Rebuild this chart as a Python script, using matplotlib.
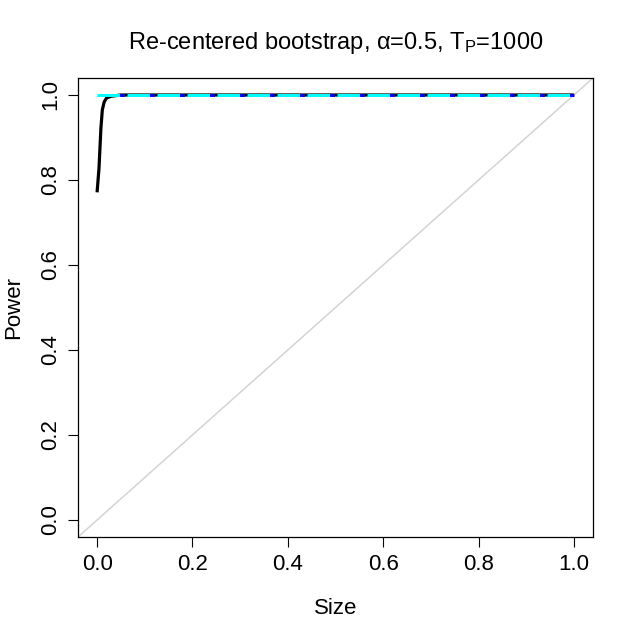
import matplotlib
matplotlib.use("Agg")
import matplotlib.pyplot as plt

plt.rcParams['font.family'] = ['Liberation Sans', 'DejaVu Sans']
plt.rcParams['mathtext.fontset'] = 'custom'
plt.rcParams['mathtext.rm'] = 'Liberation Sans'
plt.rcParams['mathtext.it'] = 'Liberation Sans'  # upright alpha like R's symbol font
plt.rcParams['lines.scale_dashes'] = False

# black curve
size_black = [0.0, 0.004, 0.006, 0.008, 0.011, 0.015, 0.020, 0.029, 0.05, 1.0]
power_black = [0.771, 0.827, 0.874, 0.921, 0.965, 0.984, 0.993, 0.997, 1.0, 1.0]

# the other three series sit at power 1 over the whole range
size_flat = [0.0, 1.0]
power_green = [1.0, 1.0]
power_blue = [1.0, 1.0]
power_cyan = [1.0, 1.0]

xticks = [0.0, 0.2, 0.4, 0.6, 0.8, 1.0]
yticks = [0.0, 0.2, 0.4, 0.6, 0.8, 1.0]

px = 0.72  # points per pixel at dpi 100

fig = plt.figure(figsize=(6.34, 6.33), dpi=100)
ax = fig.add_axes([78/634, 1-537/633, (593-78)/634, (537-78)/633])

ax.set_xlim(-0.04, 1.04)
ax.set_ylim(-0.04, 1.04)

# 45 degree reference line
ax.plot([-0.04, 1.04], [-0.04, 1.04], color='#D3D3D3', lw=1.5*px, zorder=1)

ax.plot(size_black, power_black, color='black', lw=3.2*px, zorder=2,
        solid_capstyle='butt')
ax.plot(size_flat, power_blue, color='blue', lw=3*px, zorder=3,
        linestyle=(7.5*px, (5*px, 25*px)), dash_capstyle='butt')
ax.plot(size_flat, power_green, color='#00CD00', lw=3*px, zorder=4,
        linestyle=(-1.5*px, (4*px, 176*px, 4*px, 116*px)), dash_capstyle='butt')
ax.plot(size_flat, power_cyan, color='cyan', lw=3*px, zorder=5,
        linestyle=(0, (22.5*px, 7.5*px)), dash_capstyle='butt')

ax.set_xticks(xticks)
ax.set_yticks(yticks)
ax.set_xticklabels(['%.1f' % v for v in xticks])
ax.set_yticklabels(['%.1f' % v for v in yticks], rotation=90, va='center')
ax.tick_params(direction='out', length=7, width=0.8, labelsize=16, pad=5)
for s in ax.spines.values():
    s.set_linewidth(0.9)

ax.set_xlabel('Size', fontsize=16, labelpad=17)
ax.set_ylabel('Power', fontsize=16, labelpad=12)
ax.set_title(r'Re-centered bootstrap, $\alpha$=0.5, T$_{\mathrm{P}}$=1000',
             fontsize=17, pad=21)

fig.savefig('out.png', dpi=100)
